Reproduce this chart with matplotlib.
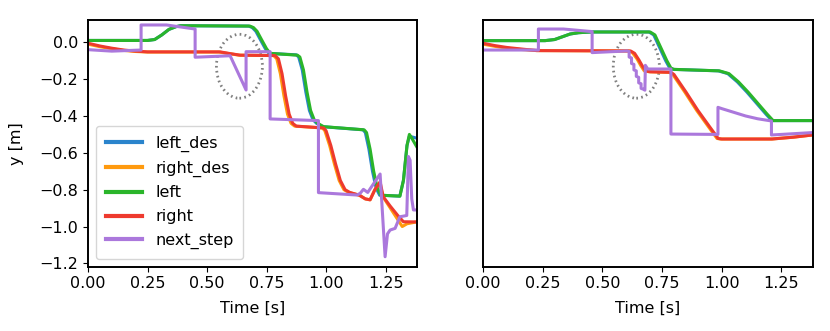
import matplotlib
matplotlib.use("Agg")
import matplotlib.pyplot as plt
from matplotlib.patches import Ellipse

# ---------------- left panel ----------------
t_l_left_des = [0.0, 0.25, 0.28, 0.31, 0.34, 0.37, 0.39, 0.675, 0.69, 0.705, 0.725, 0.745, 0.76, 0.875,
                0.885, 0.90, 0.915, 0.93, 0.945, 0.96, 0.985, 1.155, 1.165, 1.18, 1.195, 1.21, 1.225,
                1.31, 1.325, 1.34, 1.35, 1.38]
y_l_left_des = [0.01, 0.01, 0.015, 0.04, 0.07, 0.085, 0.09, 0.088, 0.08, 0.06, 0.012, -0.035, -0.06, -0.068,
                -0.08, -0.15, -0.27, -0.37, -0.42, -0.44, -0.458, -0.475, -0.49, -0.58, -0.70, -0.79, -0.83,
                -0.835, -0.75, -0.56, -0.51, -0.52]

t_l_right_des = [0.0, 0.05, 0.10, 0.15, 0.20, 0.25, 0.55, 0.595, 0.635, 0.78, 0.793, 0.808, 0.823, 0.838,
                 0.853, 0.868, 0.985, 0.995, 1.015, 1.035, 1.055, 1.075, 1.095, 1.14, 1.165, 1.185, 1.205,
                 1.225, 1.24, 1.27, 1.30, 1.32, 1.34, 1.38]
y_l_right_des = [-0.01, -0.024, -0.035, -0.044, -0.05, -0.053, -0.053, -0.062, -0.07, -0.072, -0.09, -0.17,
                 -0.29, -0.39, -0.44, -0.455, -0.465, -0.48, -0.56, -0.66, -0.75, -0.80, -0.815, -0.83, -0.85,
                 -0.855, -0.80, -0.765, -0.84, -0.90, -0.96, -1.0, -0.985, -0.975]

t_l_left = [0.0, 0.25, 0.28, 0.31, 0.34, 0.37, 0.39, 0.68, 0.695, 0.71, 0.73, 0.75, 0.765, 0.88, 0.89,
            0.905, 0.92, 0.935, 0.95, 0.965, 0.99, 1.16, 1.17, 1.185, 1.20, 1.215, 1.23, 1.31, 1.325, 1.34,
            1.35, 1.36, 1.38]
y_l_left = [0.01, 0.01, 0.015, 0.04, 0.07, 0.085, 0.09, 0.088, 0.08, 0.06, 0.012, -0.035, -0.06, -0.07,
            -0.08, -0.15, -0.27, -0.37, -0.42, -0.44, -0.458, -0.475, -0.49, -0.58, -0.70, -0.79, -0.83,
            -0.835, -0.75, -0.56, -0.50, -0.52, -0.565]

t_l_right = [0.0, 0.05, 0.10, 0.15, 0.20, 0.25, 0.555, 0.60, 0.64, 0.786, 0.80, 0.815, 0.83, 0.845, 0.86,
             0.875, 0.99, 1.00, 1.02, 1.04, 1.06, 1.08, 1.10, 1.14, 1.165, 1.185, 1.205, 1.227, 1.24, 1.27,
             1.30, 1.325, 1.38]
y_l_right = [-0.005, -0.02, -0.032, -0.042, -0.048, -0.052, -0.052, -0.062, -0.07, -0.072, -0.09, -0.17,
             -0.29, -0.39, -0.44, -0.455, -0.465, -0.48, -0.56, -0.66, -0.75, -0.80, -0.815, -0.83, -0.85,
             -0.855, -0.80, -0.757, -0.838, -0.89, -0.938, -0.974, -0.975]

t_l_next = [0.0, 0.1, 0.223, 0.223, 0.33, 0.45, 0.45, 0.597, 0.664, 0.664, 0.765, 0.765, 0.968, 0.968,
            1.13, 1.143, 1.157, 1.175, 1.227, 1.248, 1.258, 1.269, 1.29, 1.31, 1.339, 1.346, 1.353, 1.36,
            1.367, 1.38]
y_l_next = [-0.04, -0.048, -0.042, 0.094, 0.094, 0.072, -0.081, -0.073, -0.259, -0.051, -0.051, -0.416,
            -0.425, -0.816, -0.829, -0.82, -0.798, -0.815, -0.715, -1.164, -1.04, -1.019, -1.01, -0.947,
            -0.94, -0.62, -0.64, -0.85, -0.91, -0.91]

# ---------------- right panel ----------------
t_r_left_des = [0.0, 0.26, 0.30, 0.365, 0.40, 0.45, 0.695, 0.715, 0.74, 0.765, 0.782, 0.795, 0.985, 1.025,
                1.065, 1.105, 1.145, 1.185, 1.21, 1.38]
y_r_left_des = [0.009, 0.009, 0.015, 0.045, 0.052, 0.056, 0.056, 0.04, -0.03, -0.10, -0.14, -0.147, -0.155,
                -0.17, -0.215, -0.27, -0.33, -0.39, -0.425, -0.425]

t_r_right_des = [0.0, 0.05, 0.10, 0.15, 0.225, 0.61, 0.625, 0.645, 0.66, 0.675, 0.695, 0.78, 0.795, 0.845,
                 0.895, 0.945, 0.98, 0.995, 1.21, 1.30, 1.38]
y_r_right_des = [-0.01, -0.022, -0.032, -0.038, -0.045, -0.047, -0.055, -0.09, -0.125, -0.155, -0.16,
                 -0.163, -0.175, -0.27, -0.37, -0.46, -0.522, -0.525, -0.525, -0.515, -0.503]

t_r_left = [0.0, 0.26, 0.30, 0.365, 0.40, 0.45, 0.70, 0.72, 0.745, 0.77, 0.787, 0.80, 0.99, 1.03, 1.07,
            1.11, 1.15, 1.19, 1.215, 1.38]
y_r_left = [0.009, 0.009, 0.015, 0.045, 0.052, 0.056, 0.056, 0.04, -0.03, -0.10, -0.14, -0.147, -0.155,
            -0.17, -0.215, -0.27, -0.33, -0.39, -0.425, -0.425]

t_r_right = [0.0, 0.05, 0.10, 0.15, 0.225, 0.618, 0.635, 0.653, 0.668, 0.681, 0.70, 0.787, 0.80, 0.85,
             0.90, 0.95, 0.985, 1.0, 1.21, 1.30, 1.38]
y_r_right = [-0.005, -0.018, -0.028, -0.035, -0.045, -0.047, -0.06, -0.096, -0.13, -0.155, -0.16, -0.163,
             -0.175, -0.27, -0.37, -0.46, -0.522, -0.525, -0.525, -0.515, -0.503]

t_r_next = [0.0, 0.232, 0.232, 0.337, 0.457, 0.457, 0.604, 0.612, 0.612, 0.622, 0.622, 0.632, 0.632,
            0.642, 0.642, 0.652, 0.652, 0.662, 0.662, 0.672, 0.678, 0.68, 0.69, 0.787, 0.787, 0.984, 0.984,
            1.0, 1.05, 1.10, 1.15, 1.208, 1.208, 1.25, 1.38]
y_r_next = [-0.042, -0.042, 0.072, 0.072, 0.058, -0.056, -0.047, -0.05, -0.08, -0.085, -0.115, -0.12,
            -0.15, -0.155, -0.185, -0.19, -0.22, -0.225, -0.25, -0.255, -0.26, -0.125, -0.145, -0.145,
            -0.498, -0.50, -0.353, -0.36, -0.38, -0.40, -0.415, -0.427, -0.503, -0.50, -0.49]

labels = ["left_des", "right_des", "left", "right", "next_step"]
colors = ["#2a84cc", "#ff9a0e", "#2ab52a", "#ee3a2e", "#ab78dc"]

left_series = [(t_l_left_des, y_l_left_des), (t_l_right_des, y_l_right_des), (t_l_left, y_l_left),
               (t_l_right, y_l_right), (t_l_next, y_l_next)]
right_series = [(t_r_left_des, y_r_left_des), (t_r_right_des, y_r_right_des), (t_r_left, y_r_left),
                (t_r_right, y_r_right), (t_r_next, y_r_next)]

plt.rcParams["font.size"] = 11.5
plt.rcParams["axes.linewidth"] = 1.4

fig = plt.figure(figsize=(8.3, 3.31), dpi=100)
ax1 = fig.add_axes([88 / 830, 1 - 266.7 / 331, 329 / 830, 246.7 / 331])
ax2 = fig.add_axes([483 / 830, 1 - 266.7 / 331, 330 / 830, 246.7 / 331], sharey=ax1)

for ax, series, centre in [(ax1, left_series, (0.636, -0.13)), (ax2, right_series, (0.642, -0.13))]:
    for (t, y), lab, c in zip(series, labels, colors):
        ax.plot(t, y, color=c, lw=2.2, label=lab)
    ax.add_patch(Ellipse(centre, 0.193, 0.347, fill=False, ls=(0, (0.6, 1.2)), lw=2.0, color="gray"))
    ax.set_xlim(0, 1.382)
    ax.set_xticks([0.0, 0.25, 0.5, 0.75, 1.0, 1.25])
    ax.set_xlabel("Time [s]", labelpad=7)

ax1.set_ylim(-1.218, 0.121)
ax1.set_yticks([-1.2, -1.0, -0.8, -0.6, -0.4, -0.2, 0.0])
ax1.set_ylabel("y [m]", labelpad=11)
ax2.tick_params(axis="y", left=False, labelleft=False)
leg = ax1.legend(loc="lower left", handlelength=2.3, labelspacing=0.55, borderpad=0.6)
for line in leg.get_lines():
    line.set_linewidth(3)

fig.savefig("out.png", dpi=100)
